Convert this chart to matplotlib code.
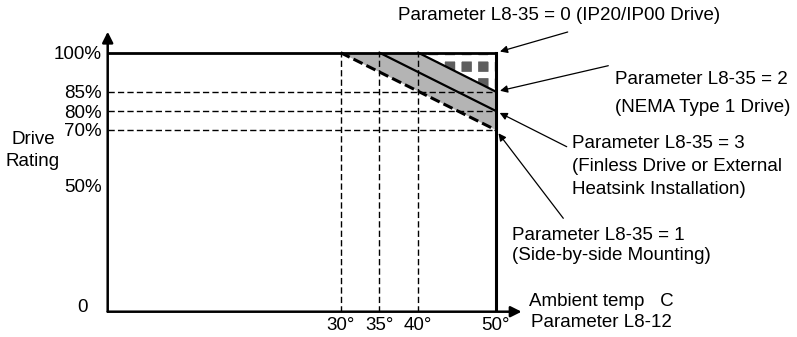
import numpy as np
import matplotlib
matplotlib.use('Agg')
import matplotlib.pyplot as plt

plt.rcParams['font.family'] = ['Liberation Sans', 'DejaVu Sans']
plt.rcParams['hatch.linewidth'] = 4.5

# derating curves (ambient temp in deg C, rating in %)
temps_ip20 = [0, 50]
rating_ip20 = [100, 100]
temps_nema = [40, 50]
rating_nema = [100, 85]
temps_finless = [35, 50]
rating_finless = [100, 80]
temps_side = [30, 50]
rating_side = [100, 70]

temp_marks = [30, 35, 40, 50]
temp_labels = ['30°', '35°', '40°', '50°']
rating_marks = [85, 80, 70]
ytick_vals = [50, 70, 80, 85, 100]
ytick_labels = ['50%', '70%', '80%', '85%', '100%']

# the drawing is schematic: rating axis is not quite linear
knots_pct = [0, 50, 70, 80, 85, 100, 110]
knots_pos = [0, 126.7, 181.7, 200.7, 220, 259, 285]


def fwd(v):
    return np.interp(v, knots_pct, knots_pos)


def inv(p):
    return np.interp(p, knots_pos, knots_pct)


W, H = 797, 337
fig = plt.figure(figsize=(W / 100, H / 100), dpi=100)
ax = fig.add_axes([107.7 / W, 25.3 / H, 54 * 7.765 / W, 280 / H])
ax.set_yscale('function', functions=(fwd, inv))
ax.set_xlim(0, 54)
ax.set_ylim(0, inv(280))
for s in ax.spines.values():
    s.set_visible(False)

# shaded regions
ax.fill([temps_side[0], temps_nema[0], temps_nema[1], temps_side[1]],
        [rating_side[0], rating_nema[0], rating_nema[1], rating_side[1]],
        facecolor='#b4b4b4', edgecolor='none', zorder=1)
ax.fill([temps_nema[0], temps_ip20[1], temps_nema[1]],
        [rating_nema[0], rating_ip20[1], rating_nema[1]],
        facecolor='#5e5e5e', edgecolor='white', hatch='+', linewidth=0, zorder=1)

# dashed guide lines
for r in rating_marks:
    ax.plot([0, 50], [r, r], color='k', lw=1.0, ls=(0, (4.5, 2.3)), zorder=2)
for t in temp_marks[:-1]:
    ax.plot([t, t], [0, 100], color='k', lw=1.0, ls=(0, (4.5, 2.3)), zorder=2)

# curves
ax.plot(temps_ip20, rating_ip20, color='k', lw=2.0, zorder=3, clip_on=False)
ax.plot([50, 50], [0, 100], color='k', lw=2.2, zorder=3)
ax.plot(temps_nema, rating_nema, color='k', lw=1.6, zorder=3)
ax.plot(temps_finless, rating_finless, color='k', lw=1.6, zorder=3)
ax.plot(temps_side, rating_side, color='k', lw=2.2, ls=(0, (3.3, 1.4)), zorder=3)

# axes with arrows
ax.annotate('', xy=(53.3, 0), xytext=(0, 0), annotation_clip=False,
            arrowprops=dict(arrowstyle='-|>', color='k', lw=1.8, mutation_scale=16,
                            shrinkA=0, shrinkB=0))
ax.annotate('', xy=(0, inv(280)), xytext=(0, 0), annotation_clip=False,
            arrowprops=dict(arrowstyle='-|>', color='k', lw=1.8, mutation_scale=16,
                            shrinkA=0, shrinkB=0))

fs = 13.5
ax.set_xticks(temp_marks)
ax.set_xticklabels(temp_labels, fontsize=fs)
ax.set_yticks(ytick_vals)
ax.set_yticklabels(ytick_labels, fontsize=fs)
ax.tick_params(axis='x', length=0, pad=4)
ax.tick_params(axis='y', length=0, pad=4.3)
ax.minorticks_off()


def ftext(x, y, s, **kw):
    fig.text(x / W, 1 - y / H, s, fontsize=fs, va='center', **kw)


ftext(82, 308, '0', ha='center')
ftext(33, 140, 'Drive', ha='center')
ftext(33, 161.7, 'Rating', ha='center')
ftext(529.3, 301.7, 'Ambient temp   C', ha='left')
ftext(530.7, 322.7, 'Parameter L8-12', ha='left')

notes = [
    ((50, 100), (567.7, 32), [(398.3, 16, 'Parameter L8-35 = 0 (IP20/IP00 Drive)')]),
    ((50, 85), (608.3, 65.7), [(615, 80, 'Parameter L8-35 = 2'),
                               (615, 107, '(NEMA Type 1 Drive)')]),
    ((50, 80), (566.7, 146.7), [(571.7, 143.3, 'Parameter L8-35 = 3'),
                                (571.7, 166.7, '(Finless Drive or External'),
                                (571.7, 189.5, 'Heatsink Installation)')]),
    ((50, 70), (563.3, 218.3), [(511.7, 235, 'Parameter L8-35 = 1'),
                                (511.7, 256, '(Side-by-side Mounting)')]),
]
for head, tail, lines in notes:
    ax.annotate('', xy=head, xycoords='data', xytext=(tail[0], H - tail[1]),
                textcoords='figure pixels', annotation_clip=False,
                arrowprops=dict(arrowstyle='-|>', color='k', lw=0.9, mutation_scale=11,
                                shrinkA=0, shrinkB=3))
    for x, y, s in lines:
        ftext(x, y, s, ha='left')

fig.savefig('out.png', dpi=100)
